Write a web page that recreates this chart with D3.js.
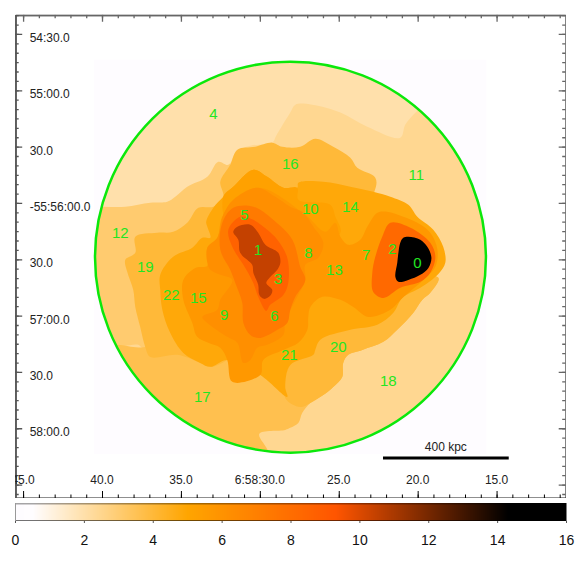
<!DOCTYPE html>
<html>
<head>
<meta charset="utf-8">
<style>
  html, body { margin: 0; padding: 0; background: #fff; }
  svg { display: block; font-family: "Liberation Sans", sans-serif; }
</style>
<script src="https://cdn.jsdelivr.net/npm/d3@7"></script>
</head>
<body>
<script>
// tick positions, RA seconds and Dec minutes
const raMajor = [45, 40, 35, 30, 25, 20, 15];
const raLabels = ['45.0', '40.0', '35.0', '6:58:30.0', '25.0', '20.0', '15.0'];
const decMajor = [54.5, 55, 55.5, 56, 56.5, 57, 57.5, 58, 58.5];
const decLabels = ['54:30.0', '55:00.0', '30.0', '-55:56:00.0', '30.0', '57:00.0', '30.0', '58:00.0', ''];
const barTicks = [0, 2, 4, 6, 8, 10, 12, 14, 16];

// colour map, keV
const cmapValues = [0, 0.5, 5, 9.3, 14.3, 16];
const cmapColors = ['#fefcff', '#fffdff', '#ffa500', '#ff5500', '#000000', '#000000'];

// bin numbers, and where each label sits (arcsec west, arcsec south of the circle centre)
const binIds = [0, 1, 2, 3, 4, 5, 6, 7, 8, 9, 10, 11, 12, 13, 14, 15, 16, 17, 18, 19, 20, 21, 22];
const binLabelX = [67.7, -17.1, 54.4, -6.4, -41, -24.5, -8.5, 40.5, 9.6, -35.2, 10.7, 67.2, -90.6, 23.5, 32, -49, 0, -46.9, 52.2, -77.3, 25.6, -0.5, -63.4];
const binLabelY = [3.2, -3.7, -4.3, 11.7, -76.2, -22.4, 31.4, -1.1, -2.1, 30.9, -25.6, -43.7, -12.8, 6.9, -26.7, 21.9, -49.6, 74.6, 66.1, 5.3, 48, 52.2, 20.3];

// temperature of each drawn layer
const kTOuter = 2.44;
const kTBin12 = 3.05;
const kTBin4 = 1.98;
const kTBin17 = 3.6;
const kTBin20 = 4.0;
const kTBin16 = 4.0;
const kTBin22 = 4.85;
const kTBin10 = 5.2;
const kTBin13 = 5.7;
const kTBin8 = 6.2;
const kTBin6 = 7.3;
const kTBin3 = 8.6;
const kTBin2 = 8.2;
const kTBin1 = 10.45;
const kTBin0 = 15;

// outlines of the bins, [arcsec west, arcsec south]
const outlineBin12 = [[-111.9, -57], [-34.6, -57], [-32, -49], [-21.3, -3.7], [-77.3, 49.6], [-81, 46.9], [-88.5, 47.4], [-91.7, 46.9], [-111.9, 46.9]];
const outlineBin4 = [[-111.9, -26.7], [-99.7, -26.7], [-87.9, -26.7], [-74.6, -28.8], [-65.6, -29.3], [-61.3, -32], [-54.9, -37.3], [-44.2, -42.6], [-38.4, -50.6], [-33, -49], [-28.8, -56], [-21.3, -59.2], [-9.6, -60.8], [-7.5, -64.5], [0, -76.8], [2.7, -81], [11.7, -81], [26.7, -76.8], [41, -69.3], [58.6, -63.4], [61.3, -70.4], [67.2, -77.3], [74.6, -83.7], [74.6, -110.3], [-111.9, -110.3]];
const outlineBin17 = [[-111.9, 46.9], [-91.7, 46.9], [-77.3, 48], [-21.3, 22.9], [78.9, 11.2], [74.6, 19.2], [70.4, 22.9], [65.6, 29.8], [57, 38.9], [49.6, 45.3], [38.4, 49.6], [30.9, 52.2], [28.2, 56.5], [27.7, 64], [22.9, 69.3], [17.6, 73.6], [10.7, 77.8], [6.4, 83.1], [4.3, 88.5], [0, 91.1], [-2.7, 92.2], [-16.5, 94.3], [-11.7, 103.9], [-11.7, 113.5], [-106.6, 113.5]];
const outlineBin20 = [[26.7, 22.9], [78.9, 11.2], [74.6, 19.2], [70.4, 22.9], [65.6, 29.8], [57, 38.9], [49.6, 45.3], [38.4, 49.6], [30.9, 52.2], [28.2, 56.5], [27.7, 64], [22.9, 69.3], [17.6, 73.6], [10.7, 77.8], [5.3, 80], [-2.7, 75.2], [-1.6, 60.2], [5.3, 44.2]];
const outlineBin16 = [[-28.2, -57], [-18.7, -58.6], [-9.6, -60.8], [-4.3, -58.6], [5.3, -58.6], [13.3, -62.9], [22.9, -58.6], [32, -52.8], [35.7, -47.4], [45.3, -42.1], [44.8, -34.6], [5.3, 22.9], [-33.6, 54.9], [-42.6, 58.6], [-48, 56.5], [-60.2, 52.2], [-74.6, 53.3], [-77.3, 48], [-80, 37.3], [-82.6, 26.7], [-83.7, 17.6], [-86.9, 8], [-87.9, 1.6], [-82.6, -2.1], [-82.6, -10.7], [-70.9, -12.8], [-62.4, -13.3], [-54.9, -18.1], [-49, -26.1], [-41, -26.7], [-35.7, -32], [-37.3, -40], [-32, -49]];
const outlineBin22 = [[-35.7, -32], [-30.4, -37.3], [-19.7, -46.4], [-12.3, -42.6], [-3.7, -36.8], [3.7, -36.8], [4.3, -39.4], [17.6, -40], [32, -37.3], [44.2, -34.6], [53.3, -32], [62.9, -27.7], [67.7, -21.3], [76.2, -14.4], [81.5, -5.3], [82.6, 3.2], [78.9, 9.1], [69.3, 16.5], [59.7, 21.9], [54.9, 29.8], [46.4, 36.2], [32, 38.9], [16, 44.2], [13.3, 49.6], [12.3, 52.2], [0, 57.6], [-2.7, 69.3], [-1.6, 74.6], [-16, 62.9], [-33.6, 54.9], [-42.6, 58.6], [-48, 56.5], [-57, 51.2], [-64, 40.5], [-68.2, 28.2], [-69.3, 17.6], [-69.3, 9.6], [-62.4, 0], [-52.2, -4.8], [-46.9, -10.1], [-42.6, -10.1], [-44.2, -16], [-44.8, -18.7], [-41, -26.1]];
const outlineBin10 = [[-35.7, -32], [-30.4, -37.3], [-19.7, -46.4], [-12.3, -42.6], [-3.7, -36.8], [3.7, -36.8], [4.3, -30.4], [21.3, -27.7], [24, -21.3], [26.7, -12.8], [5.3, -3.7], [-32, -14.4]];
const outlineBin13 = [[-35.7, -22.4], [-17.6, -36.8], [8, -22.4], [18.7, -13.3], [24, -18.1], [26.7, -10.7], [30.9, -6.4], [37.3, -9.1], [41, -16], [46.4, -23.5], [51.7, -24], [60.2, -21.3], [67.7, -18.1], [74.6, -12.8], [78.4, -3.7], [77.3, 5.3], [70.9, 12.3], [59.7, 21.9], [53.3, 28.2], [41.6, 32], [33.6, 26.7], [26.7, 22.9], [17.1, 21.3], [10.7, 26.7], [9.6, 32], [9.1, 38.9], [4.3, 45.8], [-3.7, 49.6], [-14.4, 54.9], [-16, 62.9], [-30.9, 66.6], [-33.6, 54.9], [-37.3, 48.5], [-43.7, 45.8], [-49.6, 42.6], [-52.2, 35.2], [-57, 22.9], [-57, 12.3], [-50.6, 5.9], [-44.2, 4.8], [-44.2, -4.8], [-38.9, -10.1]];
const outlineBin8 = [[-35.7, -22.4], [-30.4, -30.4], [-17.6, -36.8], [-8, -32], [0, -26.7], [6.9, -23.5], [12.3, -16], [17.6, -7.5], [14.9, 0.5], [8, 4.3], [8, 12.3], [3.7, 21.3], [-2.7, 34.6], [-3.7, 41.6], [-12.3, 46.9], [-17.6, 48.5], [-21.3, 54.9], [-25, 56.5], [-28.2, 45.8], [-33.6, 42.6], [-44.2, 35.2], [-46.9, 32], [-38.9, 28.2], [-37.3, 22.9], [-30.9, 12.3], [-37.3, 9.6], [-42.6, 6.9], [-44.2, 3.2], [-44.2, -4.8], [-38.9, -10.1]];
const outlineBin6 = [[-30.4, -26.1], [-19.7, -26.7], [-9.1, -19.7], [1.1, -9.1], [5.3, 5.3], [8, 12.3], [2.7, 21.3], [0, 28.2], [-1.6, 35.2], [-6.9, 38.9], [-16, 43.2], [-21.3, 41.6], [-25, 35.2], [-25.6, 24.5], [-29.3, 13.9], [-32, 6.9], [-37.3, -3.7], [-36.2, -18.1]];
const outlineBin3 = [[-26.7, -21.3], [-19.7, -19.7], [-12.3, -14.4], [-6.9, -9.1], [-1.6, 0.5], [-1.1, 13.9], [-3.7, 20.3], [-10.7, 25.6], [-12.8, 28.8], [-17.1, 21.3], [-19.7, 13.9], [-25, 4.3], [-30.9, -5.3], [-33, -14.4]];
const outlineBin1 = [[-30.4, -13.3], [-28.2, -16], [-21.3, -17.1], [-17.1, -12.8], [-13.3, -6.4], [-6.4, -2.1], [-5.3, 3.2], [-6.9, 6.9], [-10.7, 10.7], [-12.8, 13.9], [-9.6, 17.6], [-10.7, 20.8], [-13.9, 22.4], [-16.5, 20.3], [-17.1, 14.9], [-19.7, 8.5], [-20.3, 4.3], [-26.7, -2.1], [-27.7, -9.1]];
const outlineBin2 = [[53.3, -18.1], [64, -15.5], [74.6, -7.5], [77.3, 0], [74.6, 8.5], [69.3, 13.3], [58.6, 16.5], [49.6, 21.9], [44.2, 18.7], [43.7, 8.5], [45.3, 0], [49, -10.7]];
const outlineBin0 = [[58.6, -7.5], [60.2, -10.1], [62.9, -10.7], [69.3, -9.1], [73, -5.3], [75.2, 0.5], [73.6, 5.9], [69.3, 9.6], [62.9, 12.3], [57.6, 13.3], [56, 10.7], [57, 3.2], [57.6, -2.1]];

// extraction circle and scale bar, arcsec
const circleCentre = [0.1, 0.2];
const circleRadius = 104.1;
const scaleBarFrom = 49.4;
const scaleBarTo = 116.4;
const scaleBarY = 107.1;

const width = 581;
const height = 563;
const frame = { left: 15.2, right: 565.7, top: 14.7, bottom: 498 };

const svg = d3.select('body').append('svg')
    .attr('width', width)
    .attr('height', height);

// sky scales
const ra = d3.scaleLinear().domain([45.5, 10.62]).range([frame.left, frame.right]);
const dec = d3.scaleLinear().domain([54.329, 58.619]).range([frame.top, frame.bottom]);

// arcsec offsets, 1 RA second is 8.41 arcsec at this declination
const raCentre = 28.07;
const decCentre = 56.478;
const offX = d3.scaleLinear().domain([0, 100]).range([ra(raCentre), ra(raCentre - 100 / 8.41)]);
const offY = d3.scaleLinear().domain([0, 100]).range([dec(decCentre), dec(decCentre + 100 / 60)]);

const colour = d3.scaleLinear().domain(cmapValues).range(cmapColors);

const defs = svg.append('defs');
defs.append('clipPath').attr('id', 'frame-clip')
  .append('rect')
    .attr('x', frame.left)
    .attr('y', frame.top)
    .attr('width', frame.right - frame.left)
    .attr('height', frame.bottom - frame.top);
defs.append('clipPath').attr('id', 'circle-clip')
  .append('circle')
    .attr('cx', offX(circleCentre[0]))
    .attr('cy', offY(circleCentre[1]))
    .attr('r', offY(circleRadius) - offY(0));

// faint image background
svg.append('rect')
    .attr('x', offX(-104.5))
    .attr('y', offY(-105))
    .attr('width', offX(104.5) - offX(-104.5))
    .attr('height', offY(105) - offY(-105))
    .attr('fill', colour(0));

const map = svg.append('g').attr('clip-path', 'url(#circle-clip)');

map.append('circle')
    .attr('cx', offX(circleCentre[0]))
    .attr('cy', offY(circleCentre[1]))
    .attr('r', offY(circleRadius) - offY(0))
    .attr('fill', colour(kTOuter));

// outer bins first, the hot ones are painted on top
const layers = [
  [outlineBin12, kTBin12],
  [outlineBin4, kTBin4],
  [outlineBin17, kTBin17],
  [outlineBin20, kTBin20],
  [outlineBin16, kTBin16],
  [outlineBin22, kTBin22],
  [outlineBin10, kTBin10],
  [outlineBin13, kTBin13],
  [outlineBin8, kTBin8],
  [outlineBin6, kTBin6],
  [outlineBin3, kTBin3],
  [outlineBin1, kTBin1],
  [outlineBin2, kTBin2],
  [outlineBin0, kTBin0]
];

// the bin edges are soft in the reference, straight segments look too faceted
const outline = d3.line()
    .x(d => offX(d[0]))
    .y(d => offY(d[1]))
    .curve(d3.curveCatmullRomClosed.alpha(0.5));

map.selectAll('path')
  .data(layers)
  .enter()
  .append('path')
    .attr('d', d => outline(d[0]))
    .attr('fill', d => colour(d[1]));

svg.append('circle')
    .attr('cx', offX(circleCentre[0]))
    .attr('cy', offY(circleCentre[1]))
    .attr('r', offY(circleRadius) - offY(0))
    .attr('fill', 'none')
    .attr('stroke', '#0be80b')
    .attr('stroke-width', 2.5);

svg.selectAll('.bin-label')
  .data(binIds)
  .enter()
  .append('text')
    .attr('class', 'bin-label')
    .attr('x', (d, n) => offX(binLabelX[n]))
    .attr('y', (d, n) => offY(binLabelY[n]) + 5)
    .attr('text-anchor', 'middle')
    .attr('font-size', 15)
    .attr('fill', '#22e622')
    .text(d => d);

// scale bar
svg.append('line')
    .attr('x1', offX(scaleBarFrom))
    .attr('x2', offX(scaleBarTo))
    .attr('y1', offY(scaleBarY))
    .attr('y2', offY(scaleBarY))
    .attr('stroke', '#000')
    .attr('stroke-width', 3);
svg.append('text')
    .attr('x', offX((scaleBarFrom + scaleBarTo) / 2))
    .attr('y', offY(scaleBarY) - 7)
    .attr('text-anchor', 'middle')
    .attr('font-size', 12)
    .attr('fill', '#222')
    .text('400 kpc');

// frame, minor ticks first then the labelled ones
const raMinor = d3.range(11, 46);
const decMinor = d3.range(54.3333, 58.6, 1 / 12);

function tidy(g, colourName, strokeWidth) {
  g.selectAll('.domain').attr('stroke', colourName).attr('stroke-width', strokeWidth);
  g.selectAll('.tick line').attr('stroke', colourName).attr('stroke-width', strokeWidth === 2 ? 1.3 : 1);
}

const axes = svg.append('g').attr('clip-path', 'url(#frame-clip)');

function sideAxis(axisFn, scale, minor, major, at, colourName, strokeWidth) {
  axes.append('g')
      .attr('transform', at)
      .call(axisFn(scale).tickValues(minor).tickSize(-3.5).tickSizeOuter(0).tickFormat(''))
      .call(tidy, colourName, strokeWidth);
  return axes.append('g')
      .attr('transform', at)
      .call(axisFn(scale).tickValues(major).tickSize(-7).tickSizeOuter(0).tickFormat(''))
      .call(tidy, colourName, strokeWidth);
}

sideAxis(d3.axisTop, ra, raMinor, raMajor, `translate(0, ${frame.top})`, '#666', 2);
sideAxis(d3.axisRight, dec, decMinor, decMajor, `translate(${frame.right}, 0)`, '#666', 2);
sideAxis(d3.axisBottom, ra, raMinor, raMajor, `translate(0, ${frame.bottom})`, '#000', 1.5);
sideAxis(d3.axisLeft, dec, decMinor, decMajor, `translate(${frame.left}, 0)`, '#555', 2);

axes.selectAll('.ra-label')
  .data(raMajor)
  .enter()
  .append('text')
    .attr('class', 'ra-label')
    .attr('x', d => ra(d))
    .attr('y', frame.bottom - 14)
    .attr('text-anchor', 'middle')
    .attr('font-size', 12)
    .attr('fill', '#222')
    .text((d, n) => raLabels[n]);

axes.selectAll('.dec-label')
  .data(decMajor)
  .enter()
  .append('text')
    .attr('class', 'dec-label')
    .attr('x', frame.left + 14.5)
    .attr('y', d => dec(d) + 8)
    .attr('font-size', 12)
    .attr('fill', '#222')
    .text((d, n) => decLabels[n]);

// colour bar
const barTop = 503;
const barBottom = 521;
const barX = d3.scaleLinear().domain([0, 16]).range([15, 566]);
const barValues = d3.range(0, 16, 16 / 551);

svg.append('g').selectAll('rect')
  .data(barValues)
  .enter()
  .append('rect')
    .attr('x', d => barX(d))
    .attr('y', barTop)
    .attr('width', 1.5)
    .attr('height', barBottom - barTop)
    .attr('fill', d => colour(d));

svg.append('rect')
    .attr('x', 15).attr('y', barTop).attr('width', 551).attr('height', 1.5)
    .attr('fill', '#000').attr('fill-opacity', 0.35);
svg.append('rect')
    .attr('x', 15).attr('y', barBottom - 1).attr('width', 551).attr('height', 1)
    .attr('fill', '#000').attr('fill-opacity', 0.55);
svg.append('rect')
    .attr('x', 15).attr('y', barTop).attr('width', 1).attr('height', barBottom - barTop)
    .attr('fill', '#999');

const barAxis = svg.append('g')
    .attr('transform', `translate(0, ${barBottom})`)
    .call(d3.axisBottom(barX).tickValues(barTicks).tickSize(2).tickSizeOuter(0).tickFormat(d => d));
barAxis.select('.domain').remove();
barAxis.selectAll('.tick line').attr('stroke', '#555');
barAxis.selectAll('.tick text')
    .attr('y', 24)
    .attr('dy', 0)
    .attr('font-size', 14)
    .attr('font-family', '"Liberation Sans", sans-serif')
    .attr('fill', '#111');
</script>
</body>
</html>
